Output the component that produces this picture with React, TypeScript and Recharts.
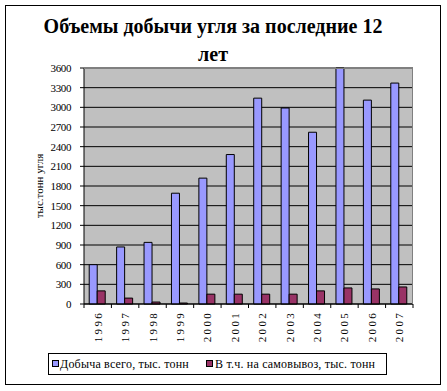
import React from "react";
import { BarChart, Bar, XAxis, YAxis, CartesianGrid } from "recharts";

const years = ["1996", "1997", "1998", "1999", "2000", "2001", "2002", "2003", "2004", "2005", "2006", "2007"];
const totalMined = [600, 870, 940, 1690, 1920, 2280, 3140, 2990, 2620, 3600, 3110, 3370];
const selfPickup = [200, 90, 30, 15, 150, 150, 150, 150, 200, 245, 230, 260];
const yTicks = [0, 300, 600, 900, 1200, 1500, 1800, 2100, 2400, 2700, 3000, 3300, 3600];

const TITLE_LINE1 = "Объемы добычи угля за последние 12";
const TITLE_LINE2 = "лет";
const Y_LABEL = "тыс.тонн угля";
const SERIES_1 = "Добыча всего, тыс. тонн";
const SERIES_2 = "В т.ч. на самовывоз, тыс. тонн";

const BLUE = "#9999FF";
const PLUM = "#993366";
const FONT = "Liberation Serif, DejaVu Serif, Times New Roman, serif";

const data = years.map((year, i) => ({
  year,
  total: totalMined[i],
  self: selfPickup[i],
}));

const W = 447;
const H = 391;
const PLOT_LEFT = 84;
const PLOT_RIGHT = 413;
const PLOT_TOP = 68;
const PLOT_BOTTOM = 304;
const BAND = (PLOT_RIGHT - PLOT_LEFT) / years.length;

function YearTick(props: any) {
  const { x, y, payload, index } = props;
  const half = payload && payload.offset ? payload.offset : BAND / 2;
  return (
    <g transform={`translate(${x},${y})`}>
      <line x1={-half} x2={-half} y1={0} y2={4} stroke="#000" />
      {index === years.length - 1 && <line x1={half} x2={half} y1={0} y2={4} stroke="#000" />}
      <text
        transform="rotate(-90)"
        x={-7}
        y={4}
        textAnchor="end"
        style={{ fontFamily: FONT, fontSize: 11, letterSpacing: 2.3 }}
        fill="#000"
      >
        {payload.value}
      </text>
    </g>
  );
}

const legendText: React.CSSProperties = {
  position: "absolute",
  top: 3,
  fontFamily: FONT,
  fontSize: 12,
  lineHeight: "14px",
  letterSpacing: 0.2,
  color: "#000",
  whiteSpace: "nowrap",
};

const swatch = (color: string, left: number): React.CSSProperties => ({
  position: "absolute",
  left,
  top: 6,
  width: 5,
  height: 5,
  background: color,
  border: "1px solid #000",
});

export default function App() {
  return (
    <div style={{ position: "absolute", left: 0, top: 0, width: W, height: H, background: "#fff" }}>
      <div
        style={{
          position: "absolute",
          left: 5,
          top: 5,
          width: 434,
          height: 378,
          border: "1px solid #000",
          pointerEvents: "none",
        }}
      />
      <div
        style={{
          position: "absolute",
          left: 8,
          top: 12,
          width: 410,
          textAlign: "center",
          fontFamily: FONT,
          fontWeight: "bold",
          fontSize: 20,
          lineHeight: "28px",
          color: "#000",
        }}
      >
        {TITLE_LINE1}
        <br />
        {TITLE_LINE2}
      </div>
      <BarChart
        width={W}
        height={H}
        data={data}
        margin={{ top: PLOT_TOP, right: W - PLOT_RIGHT, bottom: H - PLOT_BOTTOM - 40, left: 0 }}
        barCategoryGap="19%"
        barGap={0}
      >
        <CartesianGrid vertical={false} stroke="#000" fill="#C0C0C0" fillOpacity={1} />
        <XAxis
          dataKey="year"
          height={40}
          interval={0}
          stroke="#000"
          tickLine={false}
          tickSize={0}
          tickMargin={0}
          tick={<YearTick />}
        />
        <YAxis
          width={PLOT_LEFT}
          domain={[0, 3600]}
          ticks={yTicks}
          interval={0}
          stroke="#000"
          tickSize={4}
          tickMargin={9}
          tick={{ fontSize: 11, fill: "#000", style: { fontFamily: FONT, letterSpacing: -0.4 } }}
          label={{
            value: Y_LABEL,
            angle: -90,
            position: "center",
            dx: -3,
            style: { fontFamily: FONT, fontSize: 11, fill: "#000", textAnchor: "middle" },
          }}
        />
        <Bar dataKey="total" fill={BLUE} stroke="#000" strokeWidth={1} isAnimationActive={false} />
        <Bar dataKey="self" fill={PLUM} stroke="#000" strokeWidth={1} isAnimationActive={false} />
      </BarChart>
      <div
        style={{
          position: "absolute",
          left: PLOT_LEFT,
          top: PLOT_TOP,
          width: PLOT_RIGHT - PLOT_LEFT,
          height: 0,
          borderTop: "1px solid #808080",
          pointerEvents: "none",
        }}
      />
      <div
        style={{
          position: "absolute",
          left: PLOT_RIGHT - 1,
          top: PLOT_TOP,
          width: 0,
          height: PLOT_BOTTOM - PLOT_TOP,
          borderLeft: "1px solid #808080",
          pointerEvents: "none",
        }}
      />
      <div
        style={{
          position: "absolute",
          left: 48,
          top: 353,
          width: 337,
          height: 20,
          border: "1px solid #000",
        }}
      >
        <span style={swatch(BLUE, 3)} />
        <span style={{ ...legendText, left: 11 }}>{SERIES_1}</span>
        <span style={swatch(PLUM, 157)} />
        <span style={{ ...legendText, left: 166 }}>{SERIES_2}</span>
      </div>
    </div>
  );
}
